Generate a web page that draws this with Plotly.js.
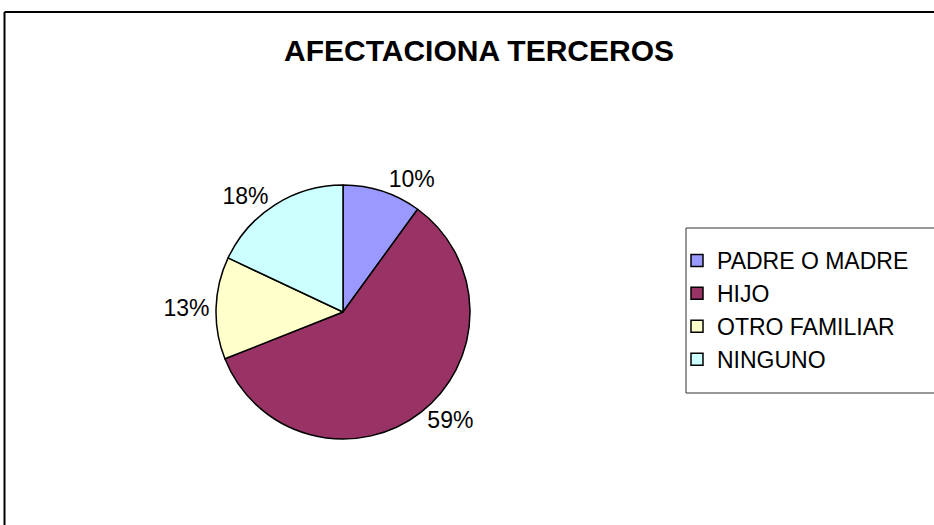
<!DOCTYPE html>
<html><head><meta charset="utf-8">
<script src="https://cdn.plot.ly/plotly-3.0.1.min.js"></script>
<style>html,body{margin:0;padding:0;background:#fff}#chart{width:934px;height:525px}</style>
</head><body><div id="chart"></div>
<script>
const categories = ["PADRE O MADRE", "HIJO", "OTRO FAMILIAR", "NINGUNO"];
const values = [10, 59, 13, 18];
const sliceColors = ["#9999FF", "#993366", "#FFFFCC", "#CCFFFF"];
const chartTitle = "AFECTACIONA TERCEROS";

const FONT = "Liberation Sans, Arial, sans-serif";
const W = 934, H = 525;
const cx = 343, cy = 312, r = 127;

const trace = {
  type: 'pie',
  labels: categories,
  values: values,
  sort: false,
  direction: 'clockwise',
  rotation: 0,
  marker: {colors: sliceColors, line: {color: '#000', width: 1.5}},
  textinfo: 'percent',
  texttemplate: '%{percent:.0%}',
  textposition: 'outside',
  outsidetextfont: {size: 23, color: '#000', family: FONT},
  domain: {x: [(cx - r) / W, (cx + r) / W], y: [1 - (cy + r) / H, 1 - (cy - r) / H]},
  hoverinfo: 'label+percent',
  showlegend: true
};

const layout = {
  width: W, height: H,
  margin: {l: 0, r: 0, t: 0, b: 0},
  paper_bgcolor: '#fff',
  font: {family: FONT, color: '#000'},
  title: {
    text: '<b>' + chartTitle + '</b>',
    font: {size: 30, family: FONT, color: '#000'},
    x: 479 / W, xanchor: 'center', xref: 'paper',
    y: 1 - 50 / H, yanchor: 'middle', yref: 'paper'
  },
  legend: {
    x: 677 / W, xanchor: 'left',
    y: 1 - 239 / H, yanchor: 'top',
    font: {size: 23, family: FONT, color: '#000'},
    bgcolor: 'rgba(0,0,0,0)', borderwidth: 0
  },
  shapes: [
    {type: 'line', xref: 'paper', yref: 'paper', x0: 4.5 / W, x1: 1.05, y0: 1 - 12 / H, y1: 1 - 12 / H, line: {color: '#000', width: 2}},
    {type: 'line', xref: 'paper', yref: 'paper', x0: 4.5 / W, x1: 4.5 / W, y0: 1 - 12 / H, y1: -0.05, line: {color: '#000', width: 2}},
    {type: 'rect', xref: 'paper', yref: 'paper', x0: 686 / W, x1: 1.05, y0: 1 - 393 / H, y1: 1 - 228 / H, line: {color: '#333', width: 1}}
  ]
};

Plotly.newPlot('chart', [trace], layout, {displayModeBar: false, staticPlot: true});
</script>
</body></html>
